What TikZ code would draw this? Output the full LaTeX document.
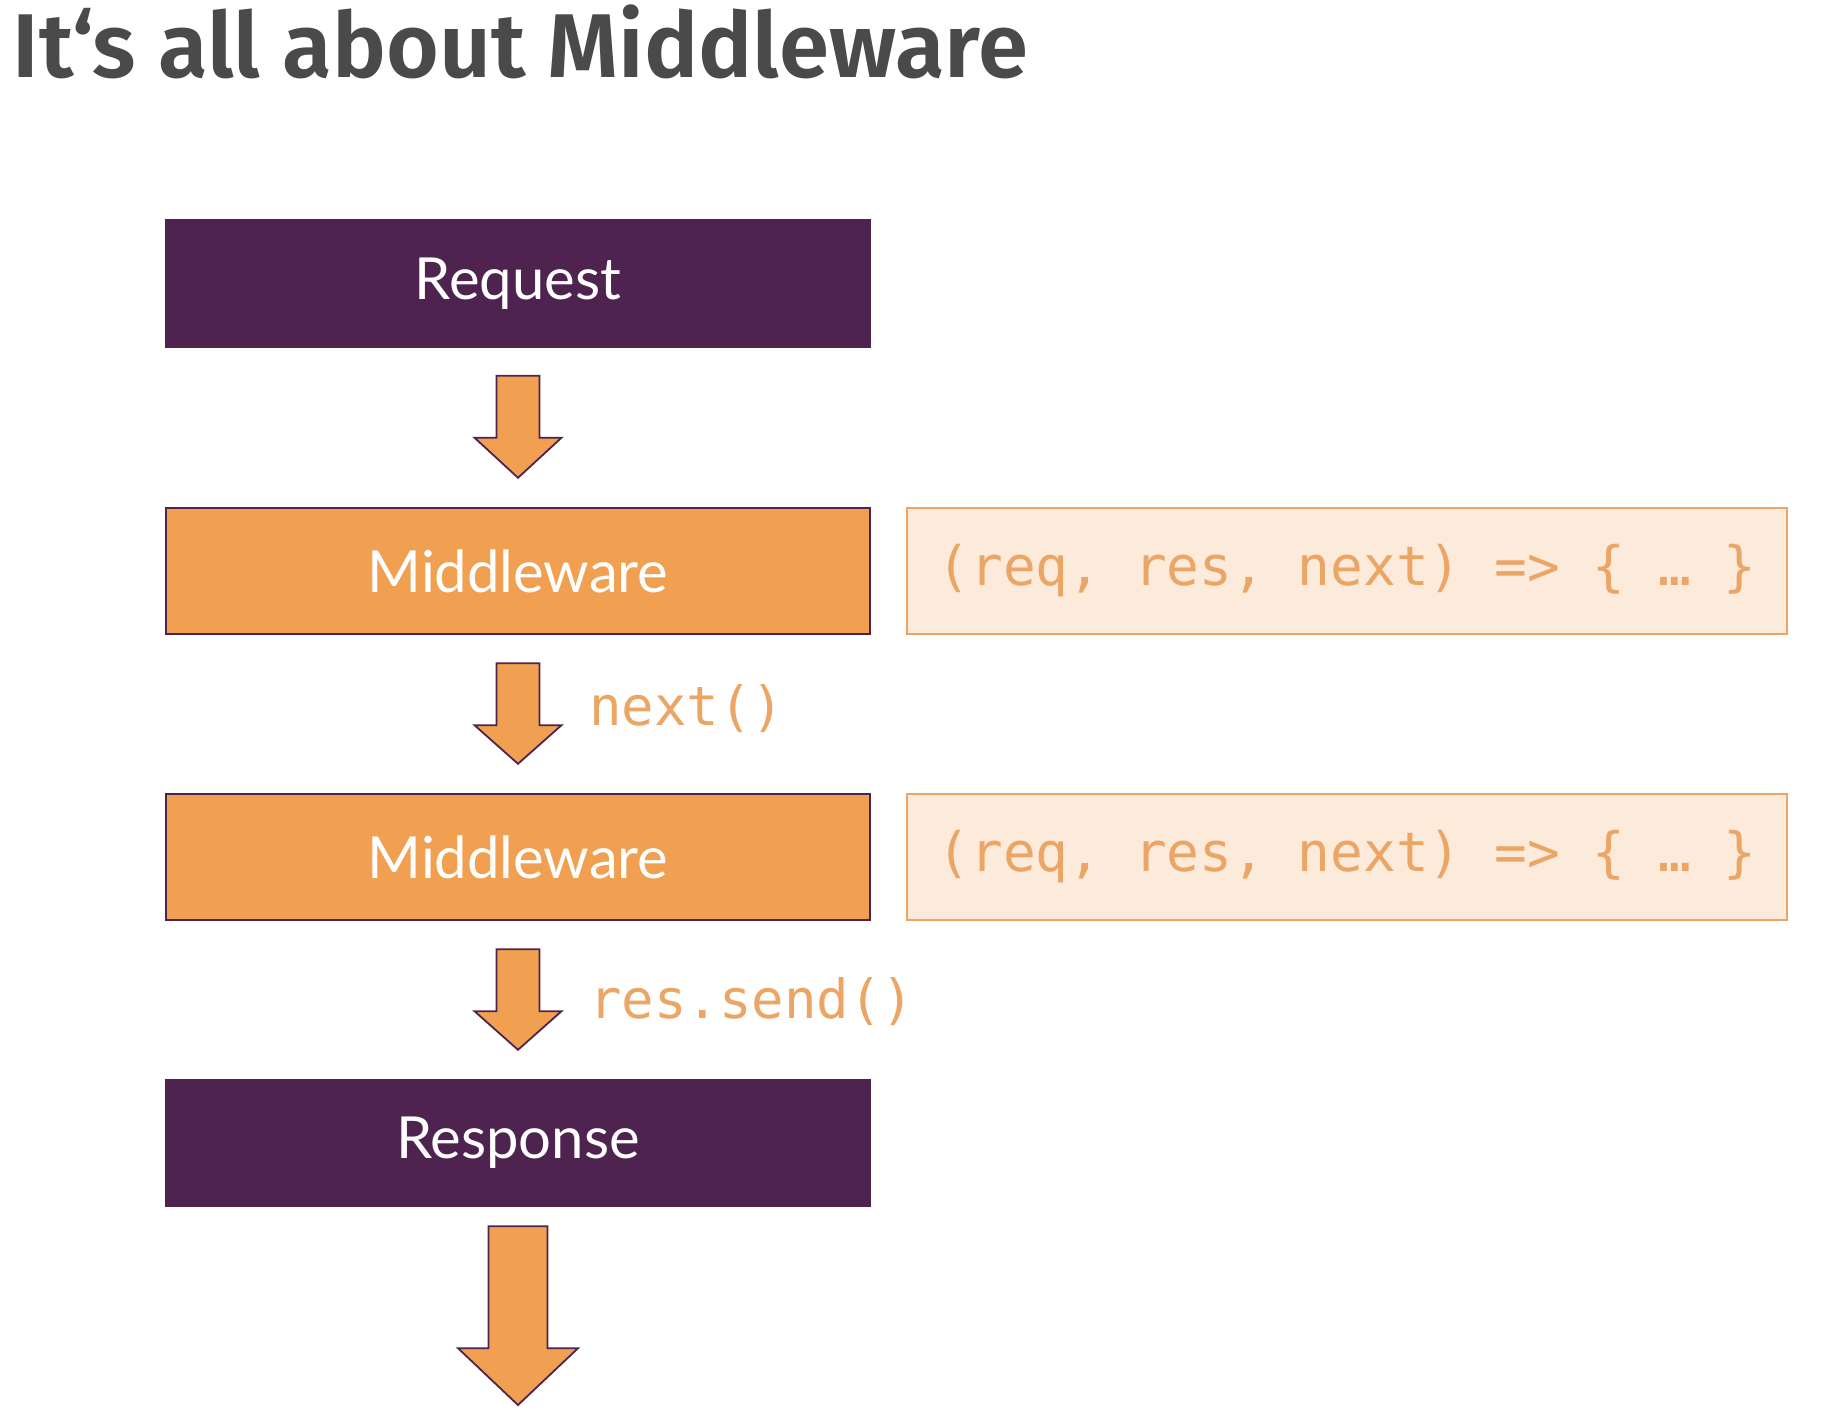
\documentclass[tikz,border=0pt]{standalone}
\usepackage{fontspec}
\setmainfont{Lato}
\newfontfamily\titlefont{Fira Sans}[UprightFont=* SemiBold]
\setmonofont{DejaVu Sans Mono}
\usetikzlibrary{calc}
\definecolor{plum}{HTML}{4E2350}
\definecolor{tangerine}{HTML}{F0A050}
\definecolor{peach}{HTML}{FCEADB}
\definecolor{codeorange}{HTML}{EBA565}
\definecolor{titlegray}{HTML}{4A4A4A}
\begin{document}
\begin{tikzpicture}[x=0.5pt,y=-0.5pt,
  stagebox/.style={draw=plum,line width=1.2pt,minimum width=352pt,minimum height=63pt,
    inner sep=0pt,text=white,font=\fontsize{29}{32}\selectfont},
  darkstage/.style={stagebox,fill=plum},
  midstage/.style={stagebox,fill=tangerine},
  codebox/.style={draw=codeorange,fill=peach,line width=1.2pt,minimum width=440pt,
    minimum height=63pt,inner sep=0pt,text=codeorange,font=\ttfamily\fontsize{27.2}{30}\selectfont},
  codelabel/.style={anchor=west,inner sep=0pt,text=codeorange,font=\ttfamily\fontsize{27}{30}\selectfont},
  blockarrow/.style={fill=tangerine,draw=plum,line width=0.9pt,line join=miter}]
\useasboundingbox (0,0) rectangle (1824,1414);

% title
\node[anchor=base west,inner sep=0pt,text=titlegray,font=\titlefont\fontsize{45.3}{50}\selectfont]
  (title) at (12,77) {It‘s all about Middleware};

% stages of the pipeline
\node[darkstage] (req) at (518,283.5) {Request};
\node[midstage] (mw1) at (518,571) {Middleware};
\node[midstage] (mw2) at (518,857) {Middleware};
\node[darkstage] (resp) at (518,1143) {Response};

% middleware signatures
\node[codebox] (code1) at (1347,571) {\raisebox{-1.5pt}{(req, res, next) => \{ … \}}};
\node[codebox] (code2) at (1347,857) {\raisebox{-1.5pt}{(req, res, next) => \{ … \}}};

% block arrows between stages
\foreach \a/\b in {req/mw1, mw1/mw2, mw2/resp}{
  \draw[blockarrow] ($(\a.south)+(-21.5,28)$) -- ($(\a.south)+(21.5,28)$)
    -- ($(\a.south)+(21.5,90)$) -- ($(\a.south)+(43.5,90)$)
    -- ($(\b.north)+(0,-29)$) -- ($(\a.south)+(-43.5,90)$)
    -- ($(\a.south)+(-21.5,90)$) -- cycle;
}
\coordinate (out) at (518,1405);
\draw[blockarrow] ($(resp.south)+(-29.5,19)$) -- ($(resp.south)+(29.5,19)$)
  -- ($(resp.south)+(29.5,141)$) -- ($(resp.south)+(60,141)$)
  -- (out) -- ($(resp.south)+(-60,141)$)
  -- ($(resp.south)+(-29.5,141)$) -- cycle;

% arrow labels
\node[codelabel] (lnext) at (589,709) {next()};
\node[codelabel] (lsend) at (589,1002) {res.send()};
\end{tikzpicture}
\end{document}
